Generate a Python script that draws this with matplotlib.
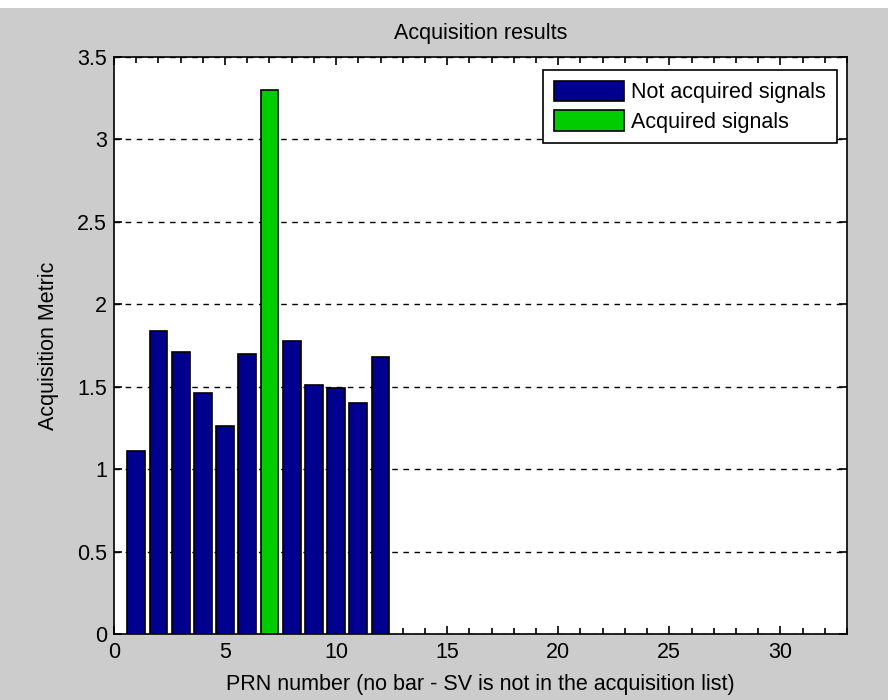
import matplotlib
matplotlib.use("Agg")
import matplotlib.pyplot as plt
from matplotlib.patches import Patch
from matplotlib.ticker import MultipleLocator, FormatStrFormatter

plt.rcParams["font.family"] = ["Liberation Sans", "DejaVu Sans"]

# PRN番号と取得メトリック
prn = [1, 2, 3, 4, 5, 6, 7, 8, 9, 10, 11, 12]
metric = [1.11, 1.84, 1.71, 1.46, 1.26, 1.70, 3.30, 1.78, 1.51, 1.49, 1.40, 1.68]
acquired = [7]

NAVY = "#00008f"
GREEN = "#00cc00"
BG = "#cccccc"
FS = 15.5

fig = plt.figure(figsize=(8.88, 7.0), dpi=100, facecolor=BG)
ax = fig.add_axes([114 / 888, 1 - 634 / 700, (847 - 114) / 888, (634 - 57) / 700])

colors = [GREEN if p in acquired else NAVY for p in prn]
ax.bar(prn, metric, width=0.8, color=colors, edgecolor="black", linewidth=1.2, zorder=3)

ax.set_xlim(0, 33)
ax.set_ylim(0, 3.5)
ax.xaxis.set_major_locator(MultipleLocator(5))
ax.xaxis.set_minor_locator(MultipleLocator(1))
ax.yaxis.set_major_locator(MultipleLocator(0.5))
ax.yaxis.set_major_formatter(FormatStrFormatter("%g"))
ax.tick_params(which="both", direction="in", top=True, right=True, labelsize=FS,
               width=1.2, colors="black")
ax.tick_params(which="major", length=6)
ax.tick_params(which="minor", length=4)
ax.tick_params(axis="x", pad=6)
ax.tick_params(axis="y", pad=5)
ax.yaxis.grid(True, linestyle=(0, (4, 4)), color="black", linewidth=1, zorder=0)
for s in ax.spines.values():
    s.set_linewidth(1.2)

ax.set_title("Acquisition results", fontsize=FS, pad=13)
ax.set_xlabel("PRN number (no bar - SV is not in the acquisition list)", fontsize=FS, labelpad=8)
ax.set_ylabel("Acquisition Metric", fontsize=FS, labelpad=13)

handles = [Patch(facecolor=NAVY, edgecolor="black", linewidth=1.2, label="Not acquired signals"),
           Patch(facecolor=GREEN, edgecolor="black", linewidth=1.2, label="Acquired signals")]
leg = ax.legend(handles=handles, loc="upper right", fontsize=FS, fancybox=False,
                framealpha=1, edgecolor="black", handlelength=3.25, handleheight=1.1,
                handletextpad=0.35, borderpad=0.5, labelspacing=0.3, borderaxespad=0,
                bbox_to_anchor=(1 - 10 / 733, 1 - 13 / 577))
leg.get_frame().set_linewidth(1.2)
leg.set_zorder(5)

# 上端の白い帯
fig.patches.append(plt.Rectangle((0, 1 - 8 / 700), 1, 8 / 700, transform=fig.transFigure,
                                 facecolor="white", edgecolor="none", zorder=-1))

fig.savefig("out.png", dpi=100, facecolor=BG)
